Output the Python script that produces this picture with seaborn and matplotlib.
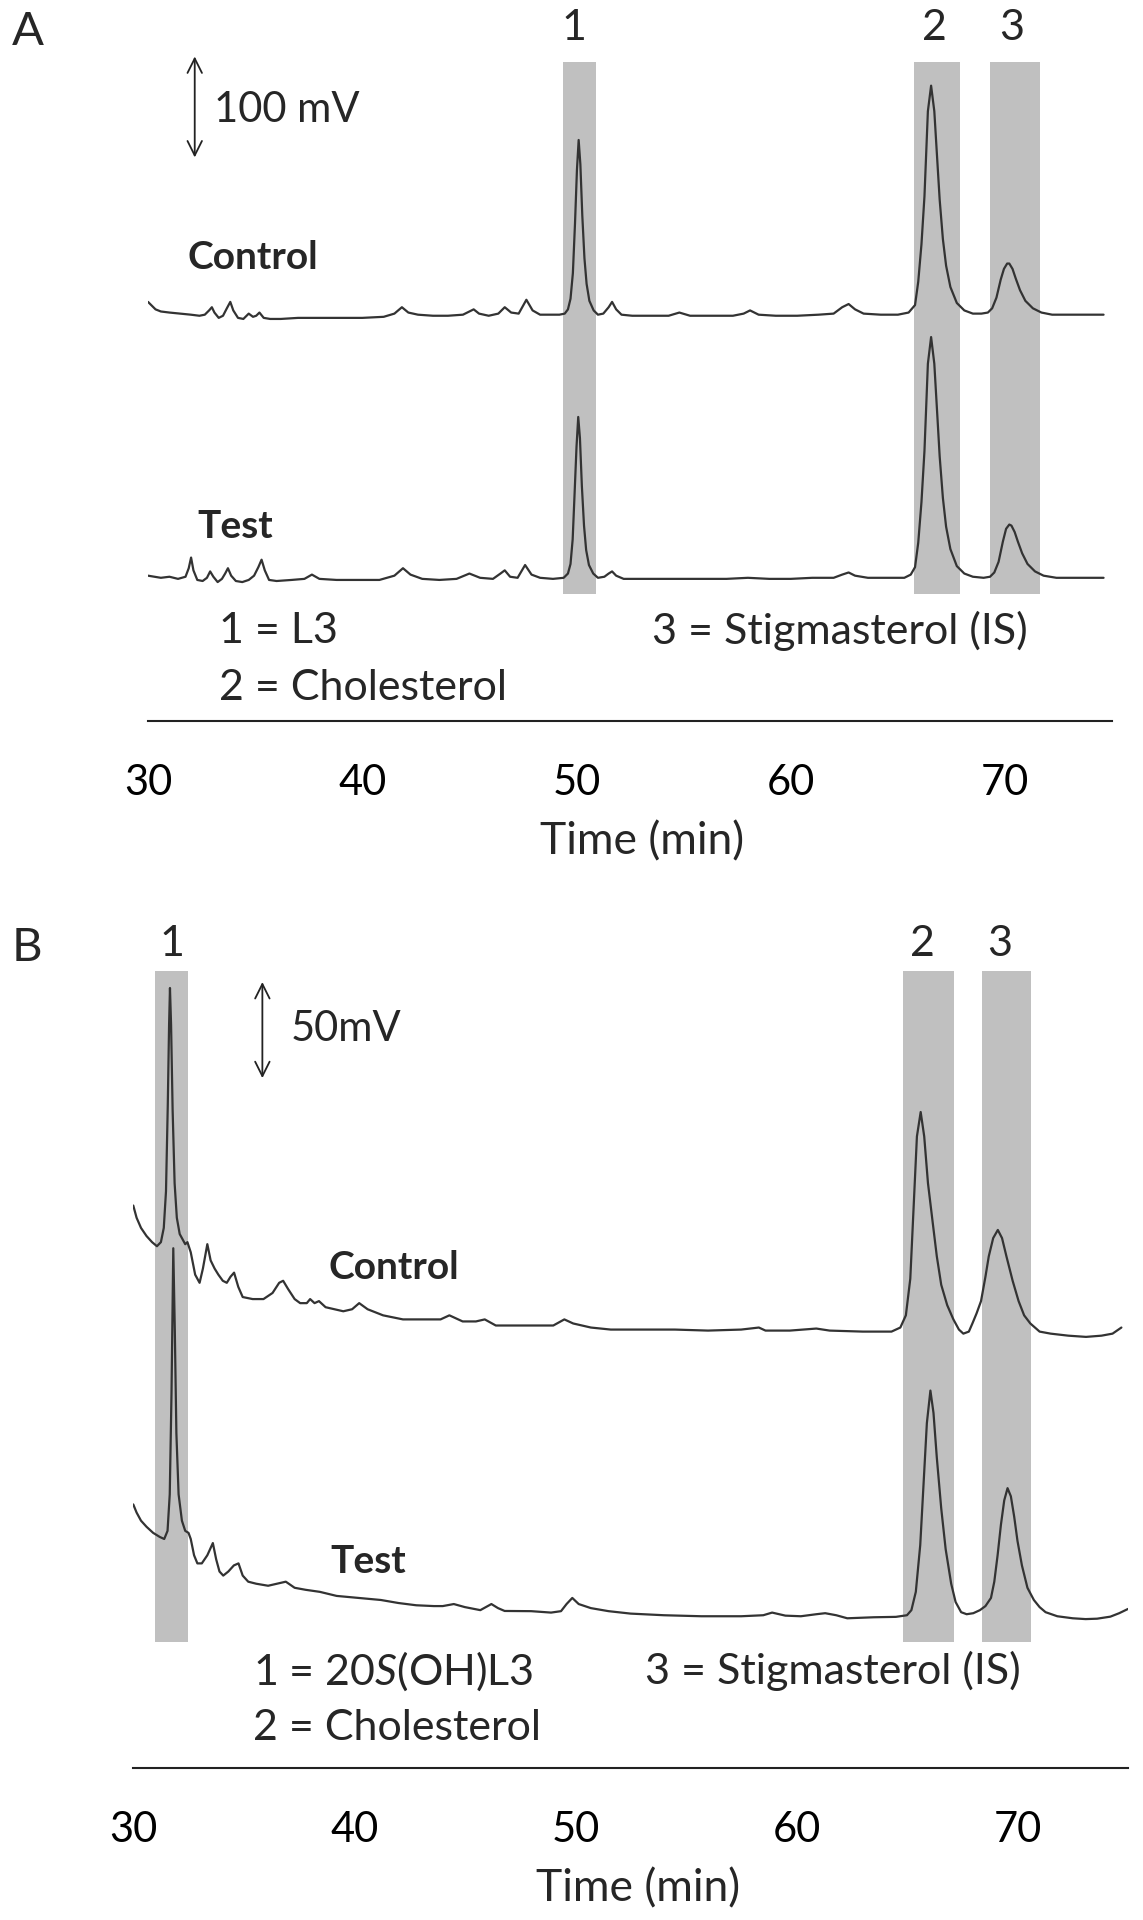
import matplotlib
matplotlib.use('Agg')
import matplotlib.pyplot as plt
import pandas as pd
import seaborn as sns

# Panel A chromatograms: time (min) and signal (mV above each trace's own baseline)
a_control_time = [30.0, 30.15, 30.35, 30.6, 31.0, 31.5, 32.0, 32.4, 32.65, 32.85, 32.98, 33.1, 33.3, 33.5,
                  33.68, 33.84, 33.98, 34.2, 34.45, 34.7, 34.9, 35.05, 35.2, 35.4, 35.7, 36.2, 37.0, 38.0,
                  39.0, 40.0, 41.0, 41.5, 41.85, 42.15, 42.6, 43.3, 44.0, 44.7, 45.0, 45.2, 45.45, 45.9,
                  46.35, 46.65, 46.95, 47.3, 47.66, 47.95, 48.3, 48.8, 49.2, 49.45, 49.6, 49.72, 49.83,
                  49.93, 50.02, 50.1, 50.18, 50.27, 50.37, 50.47, 50.6, 50.8, 51.0, 51.25, 51.5, 51.66,
                  51.85, 52.1, 52.6, 53.5, 54.3, 54.8, 55.3, 56.3, 57.3, 57.8, 58.1, 58.5, 59.3, 60.3,
                  61.3, 62.0, 62.4, 62.7, 63.0, 63.4, 64.2, 65.0, 65.5, 65.8, 65.95, 66.1, 66.24, 66.4,
                  66.55, 66.7, 66.85, 66.95, 67.1, 67.25, 67.45, 67.75, 68.1, 68.5, 68.9, 69.2, 69.4,
                  69.6, 69.8, 69.95, 70.1, 70.2, 70.35, 70.5, 70.7, 70.95, 71.3, 71.7, 72.2, 73.0, 73.8,
                  74.6]
a_control_mv = [11, 8, 4, 2, 1, 0, -1, -2, -1, 3, 6, 1, -4, -2,
                5, 11, 3, -4, -5, 0, -3, -2, 1, -4, -5, -5, -4, -4,
                -4, -4, -3, 0, 6, 1, -1, -2, -2, -1, 2, 4, 0, -2,
                0, 6, 1, 0, 13, 3, -1, -1, -1, 0, 4, 14, 38,
                85, 135, 163, 140, 92, 52, 28, 12, 3, -1, 0, 6, 11,
                4, -1, -2, -2, -2, 1, -2, -2, -2, 0, 3, -1, -2, -2,
                -1, 0, 6, 9, 4, 0, -1, -1, 1, 8, 30, 65, 110, 190,
                214, 190, 140, 107, 70, 45, 25, 10, 3, 0, 0, 1, 5,
                15, 32, 42, 47, 47, 42, 33, 22, 12, 5, 1, -1, -1, -1,
                -1]

a_test_time = [30.0, 30.3, 30.6, 31.0, 31.4, 31.75, 31.9, 32.01, 32.12, 32.3, 32.55, 32.75, 32.9, 33.05,
               33.25, 33.45, 33.6, 33.73, 33.88, 34.1, 34.4, 34.7, 34.95, 35.15, 35.3, 35.45, 35.65, 36.0,
               36.7, 37.3, 37.65, 38.0, 38.8, 39.8, 40.8, 41.5, 41.9, 42.25, 42.8, 43.6, 44.4, 45.0,
               45.5, 46.1, 46.45, 46.65, 46.9, 47.25, 47.6, 47.9, 48.3, 48.9, 49.4, 49.6, 49.72, 49.82,
               49.91, 50.0, 50.08, 50.16, 50.25, 50.35, 50.45, 50.58, 50.78, 51.0, 51.3, 51.5, 51.66,
               51.85, 52.2, 53.0, 54.0, 55.0, 56.0, 57.0, 58.0, 59.0, 60.0, 61.0, 62.0, 62.4, 62.7,
               63.0, 63.6, 64.5, 65.3, 65.6, 65.8, 65.95, 66.1, 66.24, 66.4, 66.55, 66.7, 66.85, 66.95,
               67.1, 67.25, 67.45, 67.75, 68.1, 68.5, 69.0, 69.3, 69.5, 69.7, 69.9, 70.05, 70.2, 70.3,
               70.45, 70.6, 70.8, 71.05, 71.4, 71.8, 72.4, 73.2, 74.0, 74.6]
a_test_mv = [1, 0, -1, 0, -2, 0, 8, 18, 6, -3, -4, -1, 5, 0,
             -5, -2, 3, 8, 1, -4, -5, -3, 1, 9, 16, 6, -3, -4,
             -3, -2, 2, -2, -3, -3, -3, 1, 8, 2, -2, -3, -2, 3,
             -1, -2, 3, 6, 0, -1, 11, 2, -1, -2, -1, 3, 12, 35,
             78, 122, 150, 130, 85, 48, 25, 11, 3, -1, 0, 3, 5,
             1, -2, -2, -2, -2, -2, -2, -1, -2, -2, -1, -1, 2, 4,
             1, -1, -1, -1, 2, 9, 32, 70, 118, 200, 225, 200, 148, 113,
             74, 47, 26, 10, 3, 0, -1, 0, 4, 14, 33, 45, 49, 48,
             42, 33, 22, 12, 5, 1, -1, -1, -1, -1]

# Panel B chromatograms
b_control_time = [30.0, 30.15, 30.35, 30.6, 30.85, 31.07, 31.25, 31.38, 31.48, 31.56, 31.62, 31.66, 31.71,
                  31.78, 31.87, 31.97, 32.1, 32.25, 32.35, 32.45, 32.6, 32.8, 33.0, 33.15, 33.35, 33.5,
                  33.68, 33.85, 34.05, 34.23, 34.4, 34.56, 34.75, 34.95, 35.4, 35.89, 36.3, 36.6, 36.78,
                  37.0, 37.3, 37.55, 37.85, 38.0, 38.2, 38.4, 38.7, 39.5, 39.9, 40.22, 40.6, 41.3, 42.2,
                  43.2, 43.9, 44.3, 44.7, 44.9, 45.5, 45.9, 46.4, 47.5, 49.0, 49.5, 49.9, 50.7, 51.6,
                  53.0, 54.5, 56.0, 57.5, 58.3, 58.6, 59.7, 60.9, 61.5, 63.0, 64.3, 64.7, 64.95, 65.15,
                  65.3, 65.45, 65.62, 65.78, 65.95, 66.16, 66.35, 66.55, 66.82, 67.1, 67.35, 67.55, 67.8,
                  67.96, 68.15, 68.35, 68.55, 68.7, 68.9, 69.11, 69.3, 69.5, 69.78, 70.05, 70.3, 70.58,
                  71.0, 71.5, 72.3, 73.1, 73.8, 74.3, 74.7]
b_control_mv = [61, 55, 50, 46, 43, 41, 43, 50, 68, 110, 150, 168, 150,
                108, 72, 55, 47, 44, 42, 43, 38, 27, 23, 30, 42, 34,
                30, 27, 24, 23, 26, 28, 21, 16, 15, 15, 18, 23, 24,
                20, 15, 13, 13, 15, 13, 14, 11, 9, 10, 13, 10, 7, 5,
                5, 5, 7, 5, 4, 4, 5, 2, 2, 2, 5, 3, 1, 0,
                0, 0, -0.5, 0, 1, -0.5, -0.5, 0.5, -0.5, -1, -1, 1, 7, 25,
                60, 95, 107, 95, 72, 53, 36, 22, 12, 5, 0, -2, -1,
                3, 8, 14, 26, 36, 45, 49, 45, 36, 24, 14, 7, 3,
                -1, -2, -3, -3.6, -3, -2, 1]

b_test_time = [30.0, 30.15, 30.35, 30.6, 30.9, 31.2, 31.4, 31.55, 31.65, 31.73, 31.81, 31.88, 31.95, 32.05,
               32.2, 32.35, 32.5, 32.6, 32.75, 32.9, 33.1, 33.35, 33.6, 33.75, 33.9, 34.07, 34.3, 34.55,
               34.76, 34.95, 35.2, 35.56, 36.1, 36.5, 36.9, 37.3, 37.8, 38.44, 39.2, 40.2, 41.2, 42.0,
               42.8, 43.6, 44.0, 44.5, 45.0, 45.7, 46.2, 46.5, 46.8, 48.0, 48.9, 49.35, 49.6, 49.86,
               50.15, 50.7, 51.5, 52.5, 54.0, 55.7, 57.5, 58.5, 58.9, 59.5, 60.2, 60.9, 61.3, 61.8,
               62.3, 63.5, 64.5, 65.0, 65.2, 65.4, 65.6, 65.75, 65.9, 66.06, 66.2, 66.35, 66.55, 66.75,
               67.0, 67.2, 67.45, 67.7, 68.0, 68.3, 68.55, 68.8, 68.95, 69.1, 69.25, 69.4, 69.55, 69.7,
               69.85, 70.0, 70.2, 70.45, 70.74, 71.0, 71.27, 71.8, 72.5, 73.08, 73.6, 74.2, 74.6, 75.0]
b_test_mv = [55, 51, 47, 44, 41, 39, 38, 42, 60, 110, 181, 140, 90, 60,
             47, 42, 41, 38, 30, 26, 26, 30, 36, 28, 22, 20, 22, 25,
             26, 20, 17, 16, 15, 16, 17, 14, 13, 12, 10, 9, 8, 6.5,
             5.4, 5, 5, 6, 4.5, 3, 6, 4, 2.6, 2.5, 1.8, 2.5, 6, 9,
             6, 4, 2.5, 1.3, 0.5, 0, 0, 0.5, 1.8, 0.3, 0, 1, 1.5, 0.5,
             -1, -0.5, -0.3, 0.5, 3, 12, 35, 65, 95, 111, 100, 78, 53, 33,
             16, 7, 2, 1, 1.5, 3, 5, 9, 17, 30, 45, 57, 63, 59,
             49, 37, 25, 14, 8, 4.5, 2, 0, -1, -1.4, -1.2, -0.2, 1.5, 3.6]

# control trace is stacked above the test trace (mV)
a_control_offset = 247
b_control_offset = 141

# shaded retention windows (min)
a_windows = [(49.39, 50.92), (65.75, 67.92), (69.29, 71.64)]
b_windows = [(30.98, 32.48), (64.84, 67.12), (68.39, 70.60)]
a_window_labels = [(49.9, '1'), (66.7, '2'), (70.3, '3')]
b_window_labels = [(31.76, '1'), (65.71, '2'), (69.2, '3')]

tick_values = [30, 40, 50, 60, 70]

sns.set_style('white')
plt.rcParams['font.family'] = ['Lato', 'DejaVu Sans']
plt.rcParams['mathtext.fontset'] = 'custom'
plt.rcParams['mathtext.rm'] = 'Lato'
plt.rcParams['mathtext.it'] = 'Lato:italic'

line_col = '#333333'
band_col = '#c0c0c0'

fig = plt.figure(figsize=(11.43, 19.2), dpi=100)
ax_a = fig.add_axes([0.1295, 0.6246, 0.8435, 0.3754])
ax_b = fig.add_axes([0.1166, 0.0791, 0.8703, 0.4491])


def draw_trace(ax, t, mv, offset):
    df = pd.DataFrame({'Time': t, 'Signal': [v + offset for v in mv]})
    sns.lineplot(data=df, x='Time', y='Signal', ax=ax, color=line_col, lw=1.6,
                 estimator=None, sort=False)


def style_axis(ax, ylim):
    ax.set_xlim(30, 75)
    ax.set_ylim(*ylim)
    ax.set_yticks([])
    ax.set_ylabel('')
    for s in ['left', 'top', 'right']:
        ax.spines[s].set_visible(False)
    ax.spines['bottom'].set_color('#222222')
    ax.spines['bottom'].set_linewidth(1.5)
    ax.set_xticks(tick_values)
    ax.tick_params(axis='x', direction='out', length=10, width=1.5, pad=21,
                   labelsize=30, colors='#222222', labelcolor='black')
    ax.set_xlabel('Time (min)', fontsize=32, labelpad=14)


# ---- panel A
for lo, hi in a_windows:
    ax_a.fill_between([lo, hi], -16, 483, color=band_col, lw=0, zorder=0)
draw_trace(ax_a, a_control_time, a_control_mv, a_control_offset)
draw_trace(ax_a, a_test_time, a_test_mv, 0)
style_axis(ax_a, (-135.2, 541.4))
ax_a.xaxis.label.set_x(0.512)
for x, s in a_window_labels:
    ax_a.text(x, 515, s, fontsize=31, ha='center', va='center')
ax_a.annotate('', xy=(32.18, 491), xytext=(32.18, 391),
              arrowprops=dict(arrowstyle='<->', color='#222222', lw=1.3, mutation_scale=26))
ax_a.text(33.1, 438, '100 mV', fontsize=30, ha='left', va='center')
ax_a.text(31.84, 300, 'Control', fontsize=28, fontweight='bold', ha='left', va='center')
ax_a.text(32.3, 47, 'Test', fontsize=28, fontweight='bold', ha='left', va='center')
ax_a.text(33.3, -51, '1 = L3', fontsize=31, ha='left', va='center')
ax_a.text(33.3, -104, '2 = Cholesterol', fontsize=31, ha='left', va='center')
ax_a.text(53.5, -51, '3 = Stigmasterol (IS)', fontsize=31, ha='left', va='center')

# ---- panel B
for lo, hi in b_windows:
    ax_b.fill_between([lo, hi], -12.7, 317.5, color=band_col, lw=0, zorder=0)
draw_trace(ax_b, b_control_time, b_control_mv, b_control_offset)
draw_trace(ax_b, b_test_time, b_test_mv, 0)
style_axis(ax_b, (-74.7, 349.4))
ax_b.xaxis.label.set_x(0.507)
for x, s in b_window_labels:
    ax_b.text(x, 330.7, s, fontsize=31, ha='center', va='center')
ax_b.annotate('', xy=(35.84, 313.3), xytext=(35.84, 263.3),
              arrowprops=dict(arrowstyle='<->', color='#222222', lw=1.3, mutation_scale=26))
ax_b.text(37.14, 288.6, '50mV', fontsize=30, ha='left', va='center')
ax_b.text(38.83, 171.7, 'Control', fontsize=28, fontweight='bold', ha='left', va='center')
ax_b.text(38.9, 27, 'Test', fontsize=28, fontweight='bold', ha='left', va='center')
ax_b.text(35.42, -27.1, r'1 = 20$\mathit{S}$(OH)L3', fontsize=31, ha='left', va='center')
ax_b.text(35.42, -54.8, '2 = Cholesterol', fontsize=31, ha='left', va='center')
ax_b.text(53.13, -27.1, '3 = Stigmasterol (IS)', fontsize=31, ha='left', va='center')

fig.text(0.0247, 0.9834, 'A', fontsize=34, ha='center', va='center')
fig.text(0.0236, 0.5064, 'B', fontsize=34, ha='center', va='center')

fig.savefig('out.png', dpi=100)
